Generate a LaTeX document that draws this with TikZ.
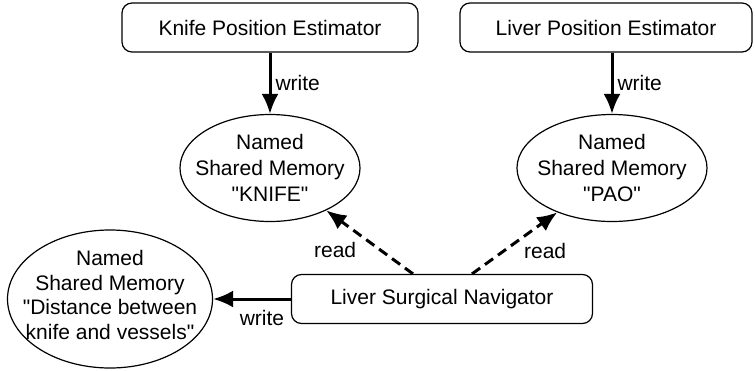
\documentclass[tikz,border=0pt]{standalone}
\usepackage{fontspec}
\setmainfont{Liberation Sans}[Ligatures=TeXOff]
\usetikzlibrary{shapes.geometric,arrows.meta}

\begin{document}
\begin{tikzpicture}[x=0.5pt,y=-0.5pt,
    every node/.style={font=\fontsize{10.5}{13}\selectfont},
    proc/.style={draw,line width=0.6pt,rounded corners=5pt,minimum height=24.5pt,inner sep=0pt},
    shm/.style={draw,line width=0.6pt,ellipse,inner sep=0pt},
    wr/.style={line width=1.5pt,-{Latex[length=10pt,width=8.5pt]}},
    rd/.style={wr,dash pattern=on 5pt off 3pt}]
  \useasboundingbox (0,0) rectangle (755,370);
  \draw
    (270,27.5) node[proc,minimum width=148pt] (kpe){Knife Position Estimator}
    (606,27.5) node[proc,minimum width=146pt] (lpe){Liver Position Estimator}
    (442,299) node[proc,minimum width=150.5pt] (lsn){Liver Surgical Navigator}
    (270,168) node[shm,minimum width=90pt,minimum height=53.5pt,
      label={[align=center]center:Named\\Shared Memory\\"KNIFE"}] (knife){}
    (612,168) node[shm,minimum width=95pt,minimum height=53.5pt,
      label={[align=center]center:Named\\Shared Memory\\"PAO"}] (pao){}
    (110,299) node[shm,minimum width=102.5pt,minimum height=69pt,
      label={[align=center,yshift=2pt,font=\fontsize{10.5}{12.3}\selectfont]center:Named\\Shared Memory\\"Distance between\\knife and vessels"}] (dist){};
  \begin{scope}[inner sep=2pt]
    \draw[wr] (kpe) -- node[right]{write} (knife);
    \draw[wr] (lpe.south -| pao.north) -- node[right]{write} (pao.north);
    \draw[wr] (lsn) -- node[below,xshift=5pt,yshift=-3pt]{write} (dist);
    \draw[rd] ([xshift=-14.5pt]lsn.north) -- node[left,xshift=-4pt,yshift=-4pt]{read} (knife.-37);
    \draw[rd] ([xshift=15pt]lsn.north) -- node[right,xshift=2pt,yshift=-4pt]{read} (pao.-141);
  \end{scope}
\end{tikzpicture}
\end{document}
